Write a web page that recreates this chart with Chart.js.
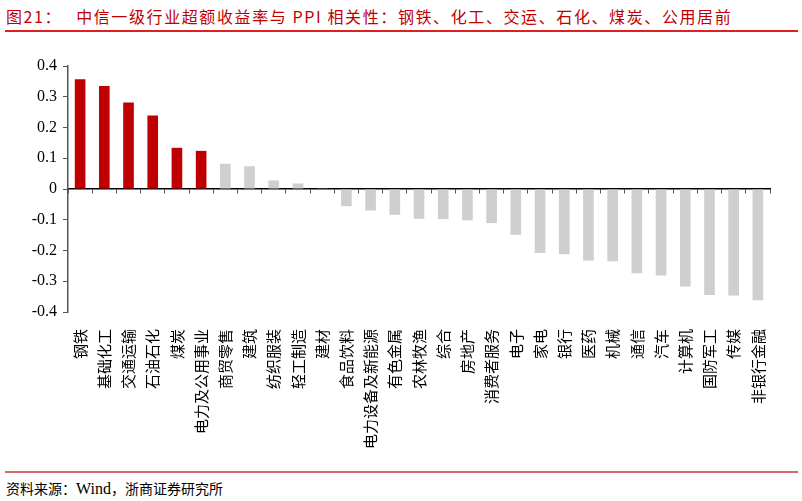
<!DOCTYPE html>
<html>
<head>
<meta charset="utf-8">
<script src="https://cdn.jsdelivr.net/npm/chart.js@4"></script>
<style>
  body { margin: 0; background: #fff; width: 802px; height: 501px; position: relative; overflow: hidden; }
  #title { position: absolute; left: 6px; top: 4px; font: 16px "Noto Sans CJK SC", sans-serif; color: #c00000; letter-spacing: 1.6px; white-space: nowrap; }
  #title .pre { margin-right: 14px; }
  .rule { position: absolute; left: 5px; width: 793px; height: 2px; }
  #topRule { top: 30px; background: #e02020; }
  #bottomRule { top: 471px; height: 2px; background: #d46a6a; }
  #source { position: absolute; left: 6px; top: 478px; font: 14px "Noto Sans CJK SC", sans-serif; color: #000; white-space: nowrap; }
  #source .en { font-family: "Liberation Serif", serif; font-size: 16px; }
  #wrap { position: absolute; left: 0; top: 40px; width: 802px; height: 430px; }
</style>
</head>
<body>
<div id="title"><span class="pre">图21：</span>中信一级行业超额收益率与 PPI 相关性：钢铁、化工、交运、石化、煤炭、公用居前</div>
<div class="rule" id="topRule"></div>
<div id="wrap"><canvas id="chart"></canvas></div>
<div class="rule" id="bottomRule"></div>
<div id="source">资料来源：<span class="en">Wind</span>，浙商证券研究所</div>
<script>
const categories = ['钢铁', '基础化工', '交通运输', '石油石化', '煤炭', '电力及公用事业', '商贸零售', '建筑',
  '纺织服装', '轻工制造', '建材', '食品饮料', '电力设备及新能源', '有色金属', '农林牧渔', '综合', '房地产',
  '消费者服务', '电子', '家电', '银行', '医药', '机械', '通信', '汽车', '计算机', '国防军工', '传媒', '非银行金融'];
const values = [0.357, 0.335, 0.281, 0.239, 0.134, 0.124, 0.082, 0.074, 0.028, 0.018, 0.001, -0.056, -0.070,
  -0.084, -0.097, -0.098, -0.102, -0.111, -0.149, -0.208, -0.212, -0.233, -0.235, -0.274, -0.281, -0.317,
  -0.345, -0.346, -0.362];
const highlighted = 6; // first six industries shown in red
const yTicks = [-0.4, -0.3, -0.2, -0.1, 0, 0.1, 0.2, 0.3, 0.4];

const barColors = values.map((v, i) => i < highlighted ? '#c00000' : '#d0cece');

new Chart(document.getElementById('chart'), {
  type: 'bar',
  data: {
    labels: categories,
    datasets: [{
      data: values,
      backgroundColor: barColors,
      borderWidth: 0,
      barPercentage: 0.44,
      categoryPercentage: 1
    }]
  },
  options: {
    responsive: true,
    maintainAspectRatio: false,
    animation: false,
    layout: { padding: { top: 26, right: 32, left: 0, bottom: 0 } },
    plugins: { legend: { display: false }, tooltip: { enabled: false } },
    scales: {
      x: {
        position: 'bottom',
        grid: { display: false },
        border: { display: false },
        ticks: {
          autoSkip: false,
          minRotation: 90,
          maxRotation: 90,
          padding: 9,
          color: '#000',
          font: { family: '"Noto Sans CJK SC"', size: 15 }
        },
        afterFit: s => { s.height = 158; }
      },
      x2: {
        type: 'category',
        labels: categories,
        position: { y: 0 },
        offset: true,
        border: { display: true, color: '#000', width: 1.5 },
        grid: { offset: true, drawOnChartArea: false, drawTicks: true, tickLength: 4, color: '#555' },
        ticks: { display: false },
        afterFit: s => { s.height = 0; }
      },
      y: {
        min: -0.4,
        max: 0.4,
        afterBuildTicks: s => { s.ticks = yTicks.map(v => ({ value: v })); },
        border: { display: true, color: '#555', width: 1.5 },
        grid: { drawOnChartArea: false, drawTicks: true, tickLength: 5, color: '#555' },
        ticks: {
          color: '#000',
          padding: 6,
          font: { family: '"Liberation Serif"', size: 16 },
          callback: v => String(Math.round(v * 10) / 10)
        },
        afterFit: s => { s.width = 68; }
      }
    }
  }
});
</script>
</body>
</html>
